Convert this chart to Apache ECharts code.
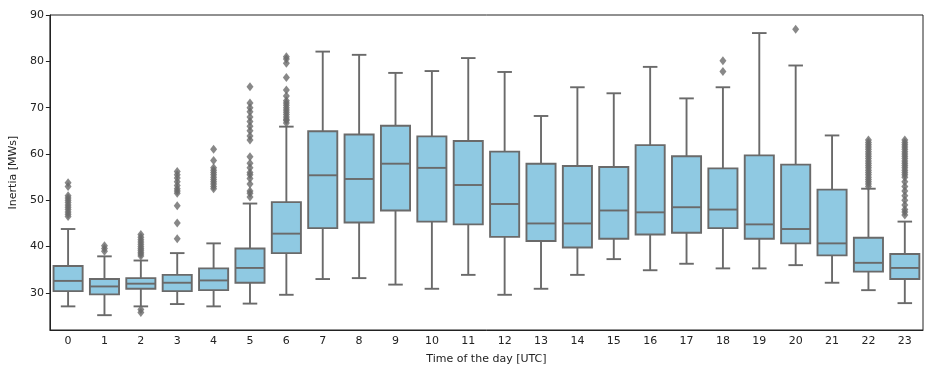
<!DOCTYPE html>
<html>
<head>
<meta charset="utf-8">
<script src="https://cdn.jsdelivr.net/npm/echarts@6/dist/echarts.min.js"></script>
<style>
  html, body { margin: 0; padding: 0; background: #fff; }
  #main { width: 934px; height: 375px; }
</style>
</head>
<body>
<div id="main"></div>
<script>
var hours = ['0','1','2','3','4','5','6','7','8','9','10','11','12','13','14','15','16','17','18','19','20','21','22','23'];
// box stats per hour: [lower whisker, Q1, median, Q3, upper whisker]
var lowWhisker = [27.1, 25.2, 27.1, 27.6, 27.1, 27.7, 29.6, 33.0, 33.2, 31.8, 30.9, 33.9, 29.6, 30.9, 33.9, 37.3, 34.9, 36.3, 35.3, 35.3, 36.0, 32.2, 30.6, 27.8];
var q1 = [30.4, 29.7, 30.9, 30.4, 30.6, 32.2, 38.6, 44.0, 45.2, 47.8, 45.4, 44.8, 42.1, 41.2, 39.8, 41.7, 42.6, 43.0, 44.0, 41.7, 40.7, 38.1, 34.6, 33.0];
var median = [32.6, 31.4, 32.0, 32.2, 32.7, 35.4, 42.8, 55.4, 54.6, 57.9, 57.0, 53.3, 49.2, 45.0, 45.0, 47.8, 47.4, 48.5, 48.0, 44.8, 43.8, 40.7, 36.5, 35.4];
var q3 = [35.8, 33.0, 33.2, 33.9, 35.3, 39.6, 49.6, 64.9, 64.2, 66.1, 63.8, 62.8, 60.5, 57.9, 57.4, 57.2, 61.9, 59.5, 56.9, 59.7, 57.7, 52.3, 41.9, 38.4];
var highWhisker = [43.8, 37.9, 37.0, 38.6, 40.7, 49.3, 65.9, 82.1, 81.4, 77.5, 77.9, 80.7, 77.7, 68.2, 74.4, 73.1, 78.8, 72.0, 74.4, 86.1, 79.1, 64.0, 52.5, 45.4];
// outliers per hour
var outliers = [
  [53.8, 53.0, 51.0, 50.5, 50.0, 49.5, 49.0, 48.5, 48.0, 47.5, 47.0, 46.5],
  [40.2, 39.6, 39.0],
  [42.6, 42.0, 41.5, 41.0, 40.5, 40.0, 39.6, 39.2, 38.8, 38.4, 38.0, 26.4, 25.8],
  [56.2, 55.5, 54.8, 54.0, 53.2, 52.5, 52.0, 51.5, 48.8, 45.1, 41.7],
  [61.0, 58.6, 57.0, 56.5, 56.0, 55.5, 55.0, 54.5, 54.0, 53.5, 53.0, 52.5],
  [74.5, 71.0, 70.0, 69.1, 68.0, 67.0, 66.0, 65.0, 63.9, 63.0, 59.4, 58.0, 57.0, 56.0, 55.5, 54.7, 53.5, 52.0, 51.5, 50.7],
  [81.0, 80.5, 79.6, 76.5, 73.8, 72.5, 71.5, 71.0, 70.5, 70.0, 69.5, 69.0, 68.5, 68.0, 67.5, 67.2, 66.7],
  [], [], [], [], [], [], [], [], [], [], [],
  [80.1, 77.8],
  [],
  [86.9],
  [],
  [63.0, 62.5, 62.0, 61.5, 61.0, 60.5, 60.0, 59.5, 59.0, 58.5, 58.0, 57.5, 57.0, 56.5, 56.0, 55.5, 55.0, 54.5, 54.0, 53.5, 53.0],
  [63.0, 62.5, 62.0, 61.5, 61.0, 60.5, 60.0, 59.5, 59.0, 58.5, 58.0, 57.5, 57.0, 56.5, 56.0, 55.5, 55.0, 54.0, 53.0, 52.0, 51.0, 50.0, 49.0, 48.0, 47.5, 46.8]
];
var yTicks = [30, 40, 50, 60, 70, 80, 90];

var boxFill = '#8fc9e2';
var lineCol = '#6a6a6a';

var boxData = hours.map(function (h, i) {
  return [i, lowWhisker[i], q1[i], median[i], q3[i], highWhisker[i]];
});
var outlierData = [];
outliers.forEach(function (arr, i) {
  arr.forEach(function (v) { outlierData.push([i, v]); });
});

function renderBox(params, api) {
  var idx = api.value(0);
  var band = api.size([1, 0])[0];
  var bw = band * 0.8;
  var cw = bw * 0.5;
  var pLow = api.coord([idx, api.value(1)]);
  var pQ1 = api.coord([idx, api.value(2)]);
  var pMed = api.coord([idx, api.value(3)]);
  var pQ3 = api.coord([idx, api.value(4)]);
  var pHigh = api.coord([idx, api.value(5)]);
  var x = pMed[0];
  var ls = { stroke: lineCol, lineWidth: 1.9 };
  return {
    type: 'group',
    children: [
      { type: 'line', shape: { x1: x, y1: pHigh[1], x2: x, y2: pQ3[1] }, style: ls },
      { type: 'line', shape: { x1: x, y1: pQ1[1], x2: x, y2: pLow[1] }, style: ls },
      { type: 'line', shape: { x1: x - cw / 2, y1: pHigh[1], x2: x + cw / 2, y2: pHigh[1] }, style: ls },
      { type: 'line', shape: { x1: x - cw / 2, y1: pLow[1], x2: x + cw / 2, y2: pLow[1] }, style: ls },
      { type: 'rect', shape: { x: x - bw / 2, y: pQ3[1], width: bw, height: pQ1[1] - pQ3[1] },
        style: { fill: boxFill, stroke: lineCol, lineWidth: 1.9 } },
      { type: 'line', shape: { x1: x - bw / 2, y1: pMed[1], x2: x + bw / 2, y2: pMed[1] }, style: ls }
    ]
  };
}

var chart = echarts.init(document.getElementById('main'));
var option = {
  animation: false,
  grid: {
    left: 48, right: 11, top: 15, bottom: 45,
    show: true, borderColor: '#222', borderWidth: 1, backgroundColor: '#fff'
  },
  xAxis: {
    type: 'category',
    data: hours,
    boundaryGap: true,
    name: 'Time of the day [UTC]',
    nameLocation: 'middle',
    nameGap: 24,
    nameTextStyle: { fontFamily: 'DejaVu Sans', fontSize: 11, color: '#222' },
    axisLine: { lineStyle: { color: '#222', width: 1 } },
    axisTick: { alignWithLabel: true, length: 4, lineStyle: { color: '#222' } },
    axisLabel: { fontFamily: 'DejaVu Sans', fontSize: 11, color: '#222', margin: 6 },
    splitLine: { show: false }
  },
  yAxis: {
    type: 'value',
    min: 22,
    max: 90,
    name: 'Inertia [MWs]',
    nameLocation: 'middle',
    nameGap: 27,
    nameTextStyle: { fontFamily: 'DejaVu Sans', fontSize: 11, color: '#222' },
    axisLine: { show: true, lineStyle: { color: '#222', width: 1 } },
    axisTick: { show: true, length: 4, customValues: yTicks, lineStyle: { color: '#222' } },
    axisLabel: { fontFamily: 'DejaVu Sans', fontSize: 11, color: '#222', margin: 6, customValues: yTicks },
    splitLine: { show: false }
  },
  series: [
    {
      type: 'custom',
      renderItem: renderBox,
      encode: { x: 0, y: [1, 2, 3, 4, 5] },
      data: boxData,
      z: 2
    },
    {
      type: 'scatter',
      symbol: 'diamond',
      symbolSize: [7, 9],
      itemStyle: { color: lineCol },
      data: outlierData,
      z: 3
    }
  ]
};
chart.setOption(option);
</script>
</body>
</html>
